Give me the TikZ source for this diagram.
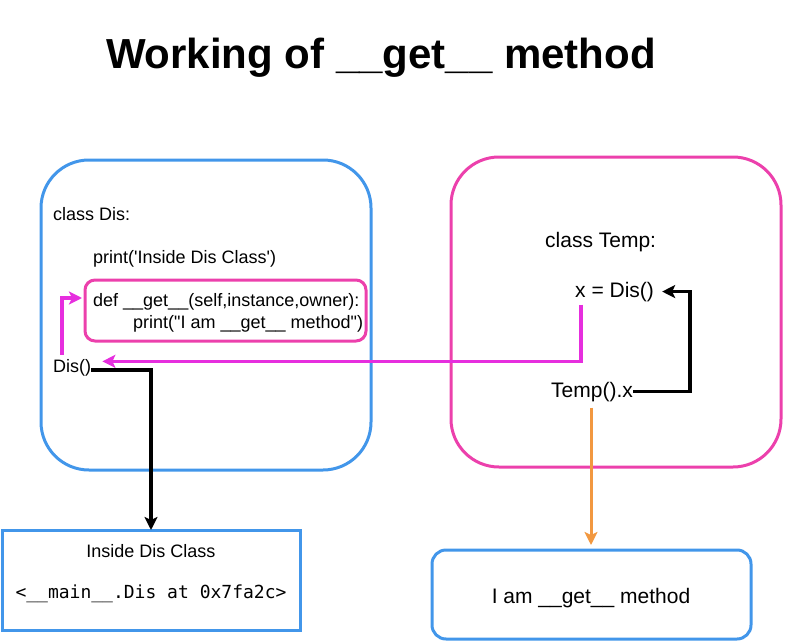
\documentclass[tikz,border=0pt]{standalone}
\usepackage{fontspec}
\setmainfont{Liberation Sans}
\setmonofont{DejaVu Sans Mono}
\usetikzlibrary{arrows.meta}
\definecolor{frameblue}{RGB}{66,150,234}
\definecolor{framepink}{RGB}{236,64,172}
\definecolor{callpink}{RGB}{230,46,222}
\definecolor{resorange}{RGB}{242,152,64}

\begin{document}
\begin{tikzpicture}[x=1pt,y=-1pt,
	code/.style={inner sep=0pt,anchor=base west,font=\fontsize{18}{21}\selectfont},
	bigcode/.style={code,font=\fontsize{21}{24}\selectfont},
	frame/.style={line width=3pt,rounded corners=#1},
	conn/.style={line width=3.3pt,-{Stealth[length=13pt,width=13pt,inset=3pt]}}]
	\useasboundingbox (0,0) rectangle (803,642);

	% title
	\node[inner sep=0pt,anchor=base,font=\fontsize{42}{48}\selectfont\bfseries] (title) at (381,68) {Working of \_\_get\_\_ method};

	% class Dis
	\draw[frame=48pt,frameblue] (41,160) rectangle (371,470);
	\node[code] (classdis) at (53,220) {class Dis:};
	\node[code] (printdis) at (93,263) {print(\textquotesingle Inside Dis Class\textquotesingle)};
	\draw[frame=10pt,framepink] (85,280) rectangle (366,341);
	\coordinate (getin) at (85,298);
	\node[code] (defget) at (93,306) {def \_\_get\_\_(self,instance,owner):};
	\node[code] (printget) at (133,328) {print(\textquotedbl I am \_\_get\_\_ method\textquotedbl)};
	\node[code] (dis) at (53,372) {Dis()};

	% class Temp
	\draw[frame=48pt,framepink] (451,157) rectangle (781,467);
	\node[bigcode] (classtemp) at (545,247) {class Temp:};
	\node[bigcode] (xdis) at (575,297) {x = Dis()};
	\node[bigcode] (tempx) at (551,397) {Temp().x};
	\coordinate (loop) at (690,0);

	% outputs
	\draw[line width=3pt,frameblue] (2,530) rectangle (300,630);
	\node[inner sep=0pt,anchor=base,font=\fontsize{18}{21}\selectfont] (inside) at (151,557) {Inside Dis Class};
	\node[inner sep=0pt,anchor=base,font=\fontsize{18}{21}\ttfamily] (addr) at (151,598) {<\_\_main\_\_.Dis at 0x7fa2c>};
	\draw[frame=14pt,frameblue] (432,550) rectangle (751,639);
	\node[inner sep=0pt,anchor=base,font=\fontsize{21}{24}\selectfont] (result) at (591,603) {I am \_\_get\_\_ method};
	\coordinate (insidetop) at (151,530);
	\coordinate (resulttop) at (591,550);

	% calls
	\draw[conn,callpink] ([xshift=9pt,yshift=4pt]dis.north west) |- ([xshift=-3pt]getin);
	\draw[conn,callpink] ([xshift=6pt,yshift=-3pt]xdis.south west) |- ([xshift=11pt,yshift=6pt]dis.east);
	\draw[conn,black] ([yshift=2pt]dis.base east) -| (insidetop);
	\draw[conn,black] (tempx.east) -- (tempx.east -| loop) |- ([xshift=8pt]xdis.east);
	\draw[conn,resorange,line width=3pt] ([yshift=-6pt]tempx.south -| resulttop) -- ([yshift=5pt]resulttop);
\end{tikzpicture}
\end{document}
